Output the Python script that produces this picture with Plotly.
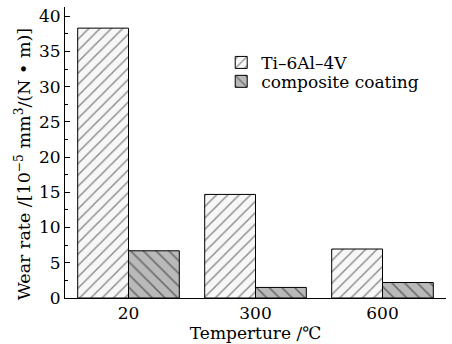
import plotly.graph_objects as go

categories = ["20", "300", "600"]
ti_values = [38.3, 14.7, 6.95]
coating_values = [6.7, 1.5, 2.2]
series_names = ["Ti\u20136Al\u20134V", "composite coating"]
y_ticks = [0, 5, 10, 15, 20, 25, 30, 35, 40]
y_title = "Wear rate /[10<sup>\u22125</sup> mm<sup>3</sup>/(N \u2022 m)]"
x_title = "Temperture /\u2103"

FONT = "DejaVu Serif"

fig = go.Figure()
fig.add_trace(go.Bar(
    x=categories, y=ti_values, name=series_names[0], legend="legend",
    marker=dict(color="#f7f7f7", line=dict(color="black", width=1),
                pattern=dict(shape="/", fgcolor="#222222", bgcolor="#f7f7f7",
                             size=8, solidity=0.18, fillmode="overlay")),
))
fig.add_trace(go.Bar(
    x=categories, y=coating_values, name=series_names[1], legend="legend2",
    marker=dict(color="#b9b9b9", line=dict(color="black", width=1),
                pattern=dict(shape="\\", fgcolor="#222222", bgcolor="#b9b9b9",
                             size=9, solidity=0.18, fillmode="overlay")),
))

legend_common = dict(x=0.41, xanchor="left", yanchor="middle",
                     bgcolor="rgba(0,0,0,0)", font=dict(family=FONT, size=17),
                     itemwidth=30)

fig.update_layout(
    width=452, height=344,
    margin=dict(l=65, r=6, t=7, b=46),
    paper_bgcolor="white", plot_bgcolor="white",
    barmode="group", bargap=0.2, bargroupgap=0,
    font=dict(family=FONT, size=16, color="black"),
    showlegend=True,
    legend=dict(y=0.808, **legend_common),
    legend2=dict(y=0.743, **legend_common),
    xaxis=dict(
        type="category", range=[-0.5, 2.5],
        showline=True, linecolor="black", linewidth=1,
        ticks="", showgrid=False,
        tickfont=dict(family=FONT, size=17),
        title=dict(text=x_title, font=dict(family=FONT, size=17), standoff=2),
    ),
    yaxis=dict(
        range=[0, 41.3],
        tickvals=y_ticks,
        showline=True, linecolor="black", linewidth=1,
        ticks="inside", ticklen=5, tickcolor="black",
        minor=dict(ticks="inside", ticklen=3, dtick=2.5, tickcolor="black"),
        showgrid=False, zeroline=False,
        tickfont=dict(family=FONT, size=17),
    ),
    annotations=[dict(
        text=y_title, textangle=-90, showarrow=False,
        xref="paper", yref="paper", x=-0.11, y=0.46,
        xanchor="center", yanchor="middle",
        font=dict(family=FONT, size=17.5),
    )],
)

fig.write_html("out.html", config={"displayModeBar": False},
               post_script="document.body.style.margin='0';")
